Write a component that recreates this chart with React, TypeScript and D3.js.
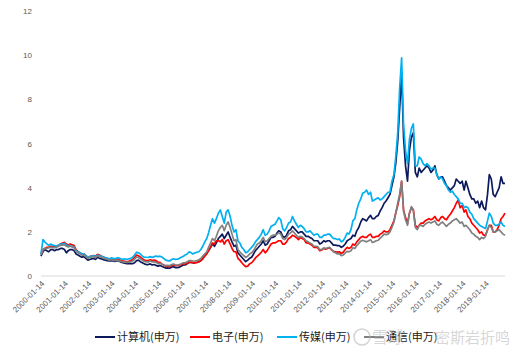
import React, { useEffect, useRef } from 'react';
import * as d3 from 'd3';

// monthly closes, Jan 2000 .. Nov 2019 (one row per year)
const computer = [
  0.9, 1.1, 1.2, 1.15, 1.1, 1.2, 1.2, 1.15, 1.2, 1.2, 1.25, 1.25,
  1.2, 1.05, 1.15, 1.2, 1.2, 1.15, 1.0, 0.95, 0.9, 0.85, 0.88, 0.8,
  0.72, 0.75, 0.78, 0.8, 0.75, 0.85, 0.8, 0.78, 0.74, 0.72, 0.7, 0.68,
  0.7, 0.68, 0.66, 0.7, 0.68, 0.63, 0.6, 0.58, 0.56, 0.57, 0.56, 0.56,
  0.6, 0.7, 0.72, 0.65, 0.6, 0.55, 0.52, 0.52, 0.55, 0.5, 0.52, 0.48,
  0.45, 0.48, 0.44, 0.4, 0.36, 0.37, 0.35, 0.4, 0.42, 0.38, 0.38, 0.4,
  0.45, 0.5, 0.5, 0.55, 0.62, 0.62, 0.6, 0.6, 0.62, 0.65, 0.7, 0.8,
  0.95, 1.05, 1.15, 1.3, 1.45, 1.35, 1.5, 1.7, 1.8, 1.9, 1.7, 1.85,
  2.0, 1.75, 1.55, 1.35, 1.4, 1.05, 0.95, 0.85, 0.75, 0.65, 0.72, 0.8,
  0.85, 1.0, 1.15, 1.25, 1.35, 1.45, 1.6, 1.4, 1.45, 1.6, 1.75, 1.75,
  1.8, 1.95, 2.05, 2.0, 1.8, 1.75, 1.85, 2.05, 2.1, 2.25, 2.15, 2.05,
  1.95, 2.0, 2.0, 1.9, 1.8, 1.8, 1.75, 1.7, 1.6, 1.6, 1.6, 1.45,
  1.5, 1.6, 1.55, 1.6, 1.6, 1.5, 1.4, 1.4, 1.38, 1.38, 1.3, 1.35,
  1.45, 1.6, 1.65, 1.7, 1.85, 1.8, 2.05, 2.2, 2.45, 2.6, 2.55, 2.5,
  2.65, 2.75, 2.6, 2.6, 2.7, 2.75, 2.95, 3.1, 3.3, 3.4, 3.55, 3.7,
  4.1, 4.5, 5.1, 6.1, 7.6, 9.2, 6.3, 5.0, 4.3, 5.7, 6.3, 6.5,
  4.7, 4.5, 4.9, 4.7, 4.8, 4.9, 5.0, 4.9, 4.7, 4.8, 5.0, 4.6,
  4.4, 4.5, 4.5, 4.3, 4.1, 4.0, 3.9, 4.0, 4.1, 4.4, 4.3, 4.2,
  4.3, 3.9, 4.3, 4.0, 3.7, 3.5, 3.5, 3.3, 3.4, 3.1, 3.4, 3.1,
  3.0, 3.7, 4.6, 4.4, 3.7, 3.6, 3.8, 4.0, 4.5, 4.2, 4.2,
];

const electronics = [
  1.0, 1.2, 1.25, 1.3, 1.3, 1.35, 1.35, 1.3, 1.35, 1.4, 1.45, 1.5,
  1.53, 1.45, 1.4, 1.45, 1.42, 1.38, 1.2, 1.12, 1.05, 1.0, 1.0, 0.92,
  0.85, 0.88, 0.9, 0.93, 0.9, 0.98, 0.95, 0.9, 0.86, 0.82, 0.8, 0.76,
  0.78, 0.76, 0.74, 0.76, 0.74, 0.7, 0.68, 0.66, 0.65, 0.67, 0.7, 0.75,
  0.85, 0.95, 0.92, 0.85, 0.78, 0.72, 0.7, 0.7, 0.74, 0.7, 0.72, 0.7,
  0.62, 0.62, 0.55, 0.5, 0.44, 0.44, 0.42, 0.48, 0.5, 0.47, 0.48, 0.5,
  0.52, 0.55, 0.55, 0.58, 0.62, 0.62, 0.6, 0.6, 0.62, 0.65, 0.7, 0.78,
  0.9, 1.0, 1.15, 1.3, 1.5, 1.45, 1.6, 1.6, 1.55, 1.65, 1.45, 1.6,
  1.65, 1.45, 1.25, 1.1, 1.1, 0.8, 0.72, 0.6, 0.5, 0.42, 0.45, 0.55,
  0.6, 0.7, 0.82, 0.9, 0.98, 1.08, 1.2, 1.05, 1.15, 1.3, 1.45, 1.5,
  1.5, 1.55, 1.6, 1.6, 1.45, 1.45, 1.55, 1.7, 1.75, 1.85, 1.8, 1.75,
  1.65, 1.75, 1.7, 1.65, 1.5, 1.5, 1.45, 1.4, 1.3, 1.3, 1.28, 1.15,
  1.18, 1.25, 1.22, 1.25, 1.28, 1.2, 1.12, 1.1, 1.08, 1.1, 1.02, 1.08,
  1.2, 1.3, 1.25, 1.3, 1.45, 1.4, 1.55, 1.65, 1.75, 1.8, 1.75, 1.75,
  1.85, 1.9, 1.75, 1.75, 1.8, 1.8, 1.9, 1.95, 2.05, 2.0, 2.0, 2.1,
  2.3, 2.5, 2.85, 3.2, 3.6, 4.3, 3.0, 2.65, 2.4, 2.85, 3.1, 3.0,
  2.3, 2.2, 2.3, 2.4, 2.4, 2.5, 2.55, 2.6, 2.55, 2.6, 2.7, 2.55,
  2.5, 2.65, 2.7, 2.6, 2.55, 2.7, 2.8, 2.95, 3.1, 3.3, 3.45, 3.1,
  3.2, 2.9, 3.0, 2.7, 2.6, 2.4, 2.3, 2.2, 2.1, 1.95, 2.0, 1.85,
  1.85, 2.1, 2.3, 2.3, 2.0, 2.0, 2.1, 2.3, 2.6, 2.7, 2.85,
];

const media = [
  1.0, 1.65, 1.55, 1.45, 1.4, 1.45, 1.4, 1.38, 1.35, 1.4, 1.45, 1.45,
  1.48, 1.4, 1.35, 1.38, 1.35, 1.3, 1.15, 1.1, 1.05, 1.0, 1.0, 0.92,
  0.85, 0.88, 0.9, 0.92, 0.88, 0.95, 0.92, 0.9, 0.86, 0.84, 0.8, 0.78,
  0.82, 0.8, 0.78, 0.82, 0.82, 0.78, 0.76, 0.78, 0.75, 0.78, 0.8, 0.85,
  0.95, 1.08, 1.05, 1.0, 0.9, 0.85, 0.85, 0.84, 0.88, 0.84, 0.88, 0.9,
  0.88, 0.9, 0.86, 0.8, 0.72, 0.7, 0.68, 0.75, 0.78, 0.75, 0.76, 0.8,
  0.85, 0.9, 0.95, 1.0, 1.1, 1.05, 1.0, 1.05, 1.08, 1.1, 1.2, 1.35,
  1.55, 1.7, 1.95, 2.3, 2.6, 2.4, 2.6, 2.85, 3.0, 2.7, 2.4, 2.9,
  3.0, 2.7, 2.3, 2.0, 2.1, 1.6, 1.5, 1.3, 1.2, 1.05, 1.1, 1.2,
  1.3, 1.4, 1.55, 1.65, 1.75, 1.9, 2.1, 1.85, 1.9, 2.05, 2.25, 2.3,
  2.35, 2.5, 2.65, 2.55, 2.15, 2.05, 2.2, 2.4, 2.45, 2.7, 2.5, 2.35,
  2.2, 2.3, 2.25, 2.15, 2.0, 2.0, 2.05, 1.95, 1.85, 1.9, 1.9, 1.75,
  1.75, 1.85, 1.85, 1.9, 1.9, 1.8, 1.7, 1.7, 1.65, 1.68, 1.55, 1.6,
  1.75, 1.95, 1.9, 2.1, 2.5, 2.6, 3.0, 3.3, 3.5, 3.75, 3.8, 3.9,
  3.7, 3.8, 3.4, 3.45, 3.5, 3.55, 3.45, 3.5, 3.6, 3.7, 3.8, 3.8,
  4.3, 4.6, 5.4, 6.5, 8.5, 9.9, 6.9, 5.7, 5.1, 6.2, 6.7, 6.9,
  5.0, 5.0, 5.4, 5.3, 5.1, 5.0, 5.1, 5.0, 4.85, 4.9, 4.9, 4.6,
  4.4, 4.5, 4.4, 4.2, 4.1, 3.9, 3.8, 3.85, 3.7, 3.6, 3.5, 3.3,
  3.3, 3.1, 3.15, 3.1, 2.9, 2.8, 2.6, 2.5, 2.4, 2.3, 2.25, 2.2,
  2.15, 2.5, 2.85, 2.7, 2.4, 2.3, 2.3, 2.35, 2.45, 2.3, 2.25,
];

const telecom = [
  0.95, 1.18, 1.25, 1.25, 1.28, 1.3, 1.3, 1.28, 1.3, 1.35, 1.4, 1.4,
  1.42, 1.35, 1.32, 1.35, 1.32, 1.28, 1.12, 1.05, 1.0, 0.95, 0.95, 0.88,
  0.8, 0.84, 0.86, 0.88, 0.84, 0.92, 0.88, 0.85, 0.82, 0.78, 0.76, 0.72,
  0.74, 0.72, 0.7, 0.72, 0.7, 0.66, 0.64, 0.63, 0.62, 0.63, 0.64, 0.68,
  0.76, 0.86, 0.84, 0.78, 0.72, 0.66, 0.64, 0.64, 0.68, 0.64, 0.65, 0.62,
  0.56, 0.58, 0.54, 0.5, 0.47, 0.48, 0.47, 0.52, 0.54, 0.5, 0.5, 0.52,
  0.56, 0.6, 0.6, 0.64, 0.7, 0.7, 0.68, 0.68, 0.7, 0.74, 0.8, 0.9,
  1.0, 1.1, 1.3, 1.5, 1.7, 1.6, 1.8, 2.05, 2.2, 2.3, 2.05, 2.3,
  2.45, 2.2, 1.9, 1.6, 1.65, 1.2, 1.1, 1.0, 0.92, 0.85, 0.9, 1.0,
  1.05, 1.15, 1.3, 1.45, 1.5, 1.6, 1.75, 1.55, 1.6, 1.7, 1.8, 1.85,
  1.85, 1.9, 1.95, 1.9, 1.7, 1.65, 1.75, 1.9, 1.95, 2.05, 1.95, 1.85,
  1.75, 1.8, 1.78, 1.7, 1.6, 1.55, 1.5, 1.45, 1.35, 1.35, 1.33, 1.2,
  1.2, 1.28, 1.25, 1.28, 1.3, 1.2, 1.1, 1.05, 1.0, 1.0, 0.92, 0.95,
  1.05, 1.12, 1.1, 1.15, 1.28, 1.25, 1.38, 1.48, 1.58, 1.62, 1.58, 1.55,
  1.6, 1.65, 1.52, 1.55, 1.6, 1.62, 1.72, 1.8, 1.9, 1.88, 1.9, 2.0,
  2.2, 2.45, 2.85, 3.3, 3.7, 4.3, 2.95, 2.55, 2.3, 2.85, 3.15, 3.0,
  2.2, 2.1, 2.3, 2.3, 2.25, 2.35, 2.4, 2.45, 2.4, 2.45, 2.5, 2.35,
  2.3, 2.4, 2.45, 2.35, 2.25, 2.35, 2.4, 2.5, 2.55, 2.6, 2.5, 2.4,
  2.45, 2.25, 2.3, 2.2, 2.1, 1.95, 1.9, 1.8, 1.75, 1.65, 1.75, 1.7,
  1.8, 2.1, 2.3, 2.2, 2.0, 2.0, 2.05, 2.1, 2.0, 1.9, 1.85,
];

const seriesNames = ['计算机(申万)', '电子(申万)', '传媒(申万)', '通信(申万)'];
const seriesColors = ['#0c1a5c', '#ff0000', '#00b0f0', '#808080'];
const yTicks = [0, 2, 4, 6, 8, 10, 12];
const xTickLabels = [
  '2000-01-14', '2001-01-14', '2002-01-14', '2003-01-14', '2004-01-14',
  '2005-01-14', '2006-01-14', '2007-01-14', '2008-01-14', '2009-01-14',
  '2010-01-14', '2011-01-14', '2012-01-14', '2013-01-14', '2014-01-14',
  '2015-01-14', '2016-01-14', '2017-01-14', '2018-01-14', '2019-01-14',
];

const W = 525;
const H = 353;

const App: React.FC = () => {
  const svgRef = useRef<SVGSVGElement>(null);

  useEffect(() => {
    if (!svgRef.current) return;
    const svg = d3.select(svgRef.current);
    svg.selectAll('*').remove();

    const parse = d3.timeParse('%Y-%m-%d');
    const dates = computer.map((_, i) => new Date(2000, i, 14));

    const x = d3.scaleTime()
      .domain([dates[0], dates[dates.length - 1]])
      .range([41, 505]);
    const y = d3.scaleLinear().domain([0, 12]).range([276, 11.5]);

    // y labels (no axis line, no gridlines)
    svg.append('g')
      .selectAll('text')
      .data(yTicks)
      .enter()
      .append('text')
      .attr('x', 32)
      .attr('y', d => y(d))
      .attr('dy', '0.35em')
      .attr('text-anchor', 'end')
      .attr('font-family', 'Liberation Sans, Arial, sans-serif')
      .attr('font-size', 8)
      .attr('fill', '#595959')
      .text(d => d);

    // x axis line
    svg.append('line')
      .attr('x1', 41).attr('x2', 505)
      .attr('y1', y(0)).attr('y2', y(0))
      .attr('stroke', '#d9d9d9')
      .attr('stroke-width', 1);

    // rotated date labels
    svg.append('g')
      .selectAll('text')
      .data(xTickLabels)
      .enter()
      .append('text')
      .attr('transform', d => `translate(${x(parse(d)!) + 2},${y(0) + 6}) rotate(-45)`)
      .attr('text-anchor', 'end')
      .attr('dy', '0.35em')
      .attr('font-family', 'Liberation Sans, Arial, sans-serif')
      .attr('font-size', 8)
      .attr('fill', '#595959')
      .text(d => d);

    const line = d3.line<number>()
      .x((_, i) => x(dates[i]))
      .y(d => y(d));

    const all = [computer, electronics, media, telecom];
    all.forEach((vals, k) => {
      svg.append('path')
        .datum(vals)
        .attr('d', line)
        .attr('fill', 'none')
        .attr('stroke', seriesColors[k])
        .attr('stroke-width', 1.7)
        .attr('stroke-linejoin', 'round');
    });

    // legend
    const legendX = [95, 190, 277, 364];
    const legY = 337;
    const leg = svg.append('g');
    seriesNames.forEach((name, k) => {
      leg.append('line')
        .attr('x1', legendX[k]).attr('x2', legendX[k] + 20)
        .attr('y1', legY).attr('y2', legY)
        .attr('stroke', seriesColors[k])
        .attr('stroke-width', 2);
      leg.append('text')
        .attr('x', legendX[k] + 22)
        .attr('y', legY)
        .attr('dy', '0.35em')
        .attr('font-family', 'Noto Sans CJK SC, sans-serif')
        .attr('font-size', 11)
        .attr('fill', '#1a1a1a')
        .text(name);
    });

    // faint watermark (sits over the last legend entry, as in the source)
    const wm = svg.append('g').attr('opacity', 0.55);
    wm.append('circle')
      .attr('cx', 362).attr('cy', 337).attr('r', 8)
      .attr('fill', 'none')
      .attr('stroke', '#b0b0b0')
      .attr('stroke-width', 1.5);
    wm.append('text')
      .attr('x', 372).attr('y', 343)
      .attr('font-family', 'Noto Sans CJK SC, sans-serif')
      .attr('font-size', 16)
      .attr('fill', '#b8b8b8')
      .text('雪球');
    wm.append('text')
      .attr('x', 435).attr('y', 343)
      .attr('font-family', 'Noto Sans CJK SC, sans-serif')
      .attr('font-size', 15)
      .attr('fill', '#b8b8b8')
      .text('密斯岩折鸣');
  }, []);

  return (
    <svg
      ref={svgRef}
      width={W}
      height={H}
      style={{ position: 'absolute', left: 0, top: 0, background: '#fff' }}
    />
  );
};

export default App;
